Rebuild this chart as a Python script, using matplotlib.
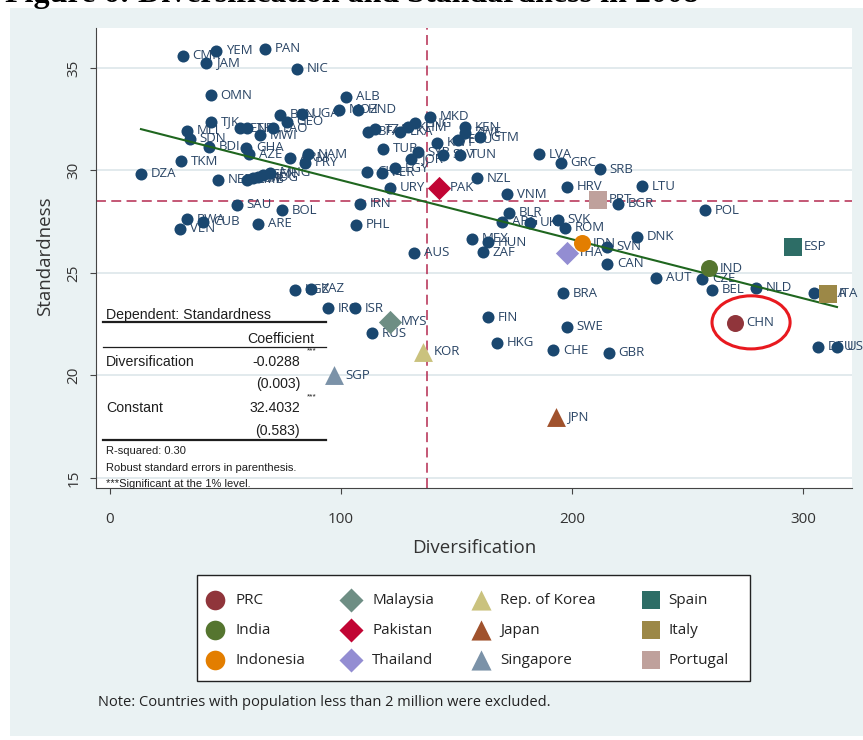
import matplotlib.pyplot as plt
from matplotlib.patches import Rectangle, Ellipse

# countries shown as plain navy dots: code, diversification, standardness
codes = ['CMR', 'YEM', 'JAM', 'PAN', 'NIC', 'OMN', 'ALB', 'MOZ', 'HND', 'TJK',
         'MLI', 'SDN', 'BDI', 'TKM', 'DZA', 'ETH', 'NPL', 'MWI', 'LAO', 'BEN',
         'GEO', 'UGA', 'GHA', 'AZE', 'ARM', 'NAM', 'PRY', 'NER', 'ZMB', 'CIV',
         'MDG', 'SEN', 'MNG', 'BFA', 'TZA', 'LKA', 'KHM', 'PNG', 'MKD', 'KWT',
         'SLV', 'ECU', 'TUN', 'KEN', 'ZWE', 'GTM', 'TUR', 'SYR', 'JOR', 'CHL',
         'PER', 'EGY', 'URY', 'NZL', 'LVA', 'GRC', 'SRB', 'HRV', 'LTU', 'VNM',
         'BGR', 'BLR', 'ARG', 'UKR', 'SVK', 'ROM', 'SVN', 'DNK', 'CAN', 'AUT',
         'MEX', 'HUN', 'ZAF', 'AUS', 'BRA', 'IRN', 'PHL', 'BOL', 'ARE', 'SAU',
         'RWA', 'CUB', 'VEN', 'KGZ', 'KAZ', 'IRQ', 'ISR', 'RUS', 'FIN', 'HKG',
         'SWE', 'CHE', 'GBR', 'POL', 'CZE', 'BEL', 'NLD', 'FRA', 'DEU', 'USA']
div = [31.6, 45.9, 41.6, 67.1, 80.9, 43.7, 102.2, 99.1, 107.4, 43.7,
       33.3, 34.6, 42.9, 30.7, 13.4, 56.3, 59.3, 64.9, 70.6, 73.6,
       76.6, 83.1, 58.9, 60.2, 77.9, 85.7, 84.4, 46.8, 59.3, 61.9,
       64.1, 66.2, 69.3, 111.7, 114.7, 125.5, 129.0, 132.0, 138.5, 141.6,
       144.2, 150.6, 151.5, 153.7, 153.7, 160.2, 118.2, 133.3, 130.3, 111.3,
       117.7, 123.4, 121.2, 158.9, 185.7, 195.2, 212.1, 197.8, 230.3, 171.9,
       219.9, 172.7, 169.7, 181.8, 193.9, 197.0, 215.2, 228.1, 215.2, 236.4,
       156.7, 163.6, 161.5, 131.6, 196.1, 108.2, 106.5, 74.5, 64.1, 55.0,
       33.3, 40.3, 30.3, 80.1, 87.0, 94.4, 106.1, 113.4, 163.6, 167.5,
       197.8, 191.8, 216.0, 257.6, 256.3, 260.6, 279.7, 304.8, 306.5, 314.7]
std = [35.59, 35.83, 35.24, 35.93, 34.95, 33.68, 33.59, 32.95, 32.95, 32.37,
       31.93, 31.54, 31.15, 30.46, 29.83, 32.07, 32.07, 31.73, 32.07, 32.71,
       32.37, 32.76, 31.10, 30.80, 30.61, 30.80, 30.37, 29.54, 29.54, 29.63,
       29.68, 29.78, 29.88, 31.88, 32.02, 31.88, 32.12, 32.31, 32.61, 31.34,
       30.76, 31.49, 30.76, 32.12, 31.83, 31.63, 31.05, 30.90, 30.56, 29.93,
       29.88, 30.12, 29.15, 29.63, 30.80, 30.37, 30.07, 29.20, 29.24, 28.85,
       28.37, 27.93, 27.49, 27.44, 27.59, 27.20, 26.27, 26.76, 25.44, 24.76,
       26.66, 26.51, 26.02, 25.98, 24.02, 28.37, 27.34, 28.07, 27.39, 28.32,
       27.63, 27.49, 27.15, 24.17, 24.22, 23.29, 23.29, 22.07, 22.85, 21.59,
       22.37, 21.24, 21.10, 28.07, 24.71, 24.17, 24.27, 24.02, 21.39, 21.39]

# highlighted economies
hl_names = ['PRC', 'India', 'Indonesia', 'Malaysia', 'Pakistan', 'Thailand',
            'Rep. of Korea', 'Japan', 'Singapore', 'Spain', 'Italy', 'Portugal']
hl_codes = ['CHN', 'IND', 'IDN', 'MYS', 'PAK', 'THA', 'KOR', 'JPN', 'SGP', 'ESP', 'ITA', 'PRT']
hl_div = [270.6, 259.3, 204.3, 121.2, 142.4, 197.8, 135.5, 193.1, 97.0, 295.7, 310.8, 211.3]
hl_std = [22.56, 25.24, 26.46, 22.61, 29.15, 25.98, 21.15, 17.98, 20.02, 26.27, 23.98, 28.56]
hl_colors = ['#90353B', '#55752F', '#E37E00', '#6E8E84', '#C10534', '#938DD2',
             '#CAC27E', '#A0522D', '#7B92A8', '#2D6D66', '#9C8847', '#BFA19C']
hl_markers = ['o', 'o', 'o', 'D', 'D', 'D', '^', '^', '^', 's', 's', 's']
hl_sizes = {'o': 150, 'D': 140, '^': 185, 's': 150}

# regression results and reference lines
slope, intercept = -0.0288, 32.4032
mean_div, mean_std = 137.2, 28.51

W, H = 863, 740
navy = '#1A476F'
lab_col = '#2a4565'
bg = '#EAF2F3'

fig = plt.figure(figsize=(W / 100, H / 100), dpi=100)
fig.patch.set_facecolor('white')
fig.patches.append(Rectangle((10 / W, 1 - 736 / H), 853 / W, 728 / H,
                             transform=fig.transFigure, fc=bg, ec='none', zorder=-5))

ax = fig.add_axes([96 / W, 1 - 488 / H, 756 / W, 460 / H])
ax.set_facecolor('white')
ax.set_xlim(-6.06, 321.2)
ax.set_ylim(14.51, 36.95)
for s in ['top', 'right']:
    ax.spines[s].set_visible(False)
for s in ['left', 'bottom']:
    ax.spines[s].set_color('#444444')
    ax.spines[s].set_linewidth(0.8)
ax.set_xticks([0, 100, 200, 300])
ax.set_yticks([15, 20, 25, 30, 35])
ax.tick_params(axis='both', length=4.5, width=0.8, color='#444444',
               labelsize=11, labelcolor='#333333')
ax.tick_params(axis='x', pad=13)
ax.tick_params(axis='y', pad=6)
for t in ax.get_xticklabels() + ax.get_yticklabels():
    t.set_family('Open Sans')
for t in ax.get_yticklabels():
    t.set_rotation(90)
    t.set_va('center')
ax.yaxis.grid(True, color='#dde6ea', lw=1.2)
ax.set_axisbelow(True)

dash = (0, (6.5, 3.5))
ax.axvline(mean_div, color='#b42a50', lw=1.1, ls=dash, zorder=1.5)
ax.axhline(mean_std, color='#b42a50', lw=1.1, ls=dash, zorder=1.5)

xs = [min(div), max(div)]
ax.plot(xs, [intercept + slope * v for v in xs], color='#1f661f', lw=1.5, zorder=3.5)

ax.scatter(div, std, s=75, color=navy, lw=0, zorder=3)
for c, x, y in zip(codes, div, std):
    ax.annotate(c, (x, y), xytext=(7, 0), textcoords='offset points', va='center',
                fontsize=9.5, color=lab_col, family='Open Sans', zorder=2.5)

for c, x, y, col, m in zip(hl_codes, hl_div, hl_std, hl_colors, hl_markers):
    ax.scatter([x], [y], s=hl_sizes[m], marker=m, color=col, lw=0, zorder=4)
    ax.annotate(c, (x, y), xytext=(8, 0), textcoords='offset points', va='center',
                fontsize=9.5, color=lab_col, family='Open Sans', zorder=2.6)

ax.add_patch(Ellipse((277.5, 22.59), 33.8, 2.59, fill=False, ec='#e8191f', lw=2.2, zorder=5))

# overlay in pixel coordinates for text, table and legend
ov = fig.add_axes([0, 0, 1, 1], zorder=10)
ov.set_xlim(0, W)
ov.set_ylim(H, 0)
ov.axis('off')
ov.patch.set_alpha(0)

ov.text(5, 2, 'Figure 6: Diversification and Standardness in 2008', family='Liberation Serif',
        weight='bold', fontsize=23, va='baseline', ha='left')

ov.text(45, 256, 'Standardness', rotation=90, ha='center', va='center',
        fontsize=13.5, family='Open Sans', color='#333333')
ov.text(474, 548, 'Diversification', ha='center', va='center',
        fontsize=13.5, family='Open Sans', color='#333333')

tf = dict(family='Liberation Sans', color='#1e1e1e', va='center')
ov.text(106, 315, 'Dependent: Standardness', fontsize=10.2, **tf)
ov.plot([103, 326], [322, 322], color='#1e1e1e', lw=1.6)
ov.text(314, 339, 'Coefficient', ha='right', fontsize=10.2, **tf)
ov.plot([103, 326], [347, 347], color='#1e1e1e', lw=0.9)
ov.text(106, 362, 'Diversification', fontsize=10.2, **tf)
ov.text(300, 362, f'{slope:.4f}', ha='right', fontsize=10.2, **tf)
ov.text(307, 351, '***', fontsize=6, **tf)
ov.text(300, 384, '(0.003)', ha='right', fontsize=10.2, **tf)
ov.text(106, 408, 'Constant', fontsize=10.2, **tf)
ov.text(300, 408, f'{intercept:.4f}', ha='right', fontsize=10.2, **tf)
ov.text(307, 397, '***', fontsize=6, **tf)
ov.text(300, 431, '(0.583)', ha='right', fontsize=10.2, **tf)
ov.plot([103, 326], [440, 440], color='#1e1e1e', lw=1.6)
ov.text(106, 451, 'R-squared: 0.30', fontsize=8, **tf)
ov.text(106, 468, 'Robust standard errors in parenthesis.', fontsize=8, **tf)
ov.text(106, 484, '***Significant at the 1% level.', fontsize=8, **tf)

# legend
ov.add_patch(Rectangle((197, 575), 553, 106, fc='white', ec='#222222', lw=1))
mk_x = [215, 351, 481, 651]
tx_x = [235, 372, 500, 668]
row_y = [600, 630, 660]
leg_sizes = {'o': 200, 'D': 150, '^': 210, 's': 170}
for i, (name, col, m) in enumerate(zip(hl_names, hl_colors, hl_markers)):
    cx, ry = i // 3, i % 3
    ov.scatter([mk_x[cx]], [row_y[ry]], s=leg_sizes[m], marker=m, color=col, lw=0)
    ov.text(tx_x[cx], row_y[ry], name, va='center', fontsize=11, family='Open Sans', color='#222222')

ov.text(98, 703, 'Note: Countries with population less than 2 million were excluded.',
        va='center', fontsize=10.5, family='Open Sans', color='#222222')

fig.savefig('out.png', dpi=100)
